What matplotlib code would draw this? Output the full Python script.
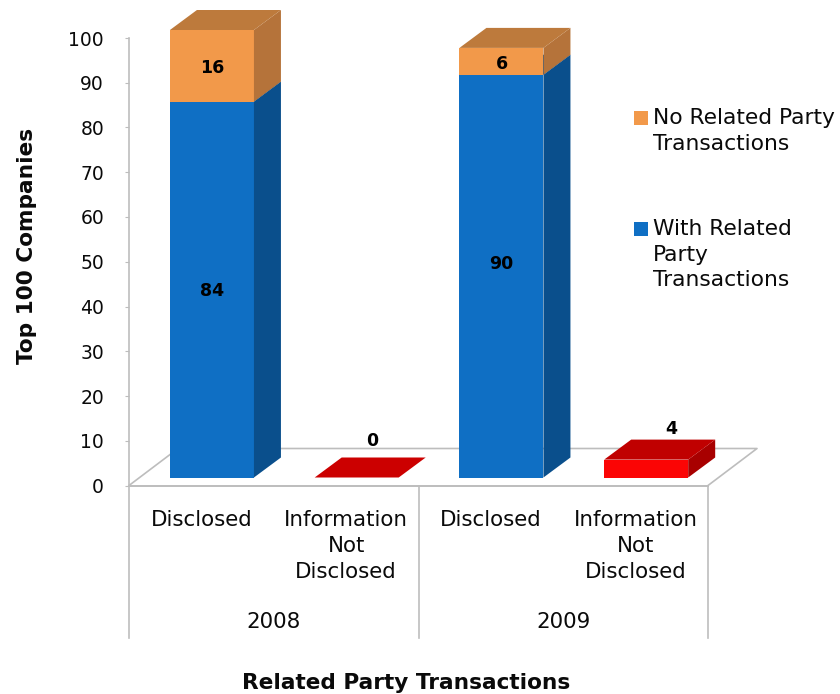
import matplotlib
matplotlib.use('Agg')
import matplotlib.pyplot as plt
from matplotlib.patches import Polygon, Rectangle

categories = ['Disclosed', 'Information\nNot\nDisclosed', 'Disclosed', 'Information\nNot\nDisclosed']
years = ['2008', '2009']
with_rpt = [84, 0, 90, 0]
no_rpt = [16, 0, 6, 0]
not_disclosed = [0, 0, 0, 4]
yticks = list(range(0, 101, 10))

W, H = 840, 694
fig = plt.figure(figsize=(W / 100, H / 100), dpi=100)
# axes box in pixels: left 129, right 708, y=0 at 485.5, y=100 at 38
ax = fig.add_axes([129 / W, 1 - 485.5 / H, 579 / W, 447.5 / H])
ax.set_xlim(0, 4)
ax.set_ylim(0, 100)

# 3d look, offsets in data units
px_x = 4 / 579
px_y = 100 / 447.5
dx, dy = 27 * px_x, 20 * px_y
base = 8 * px_y
shift = 0.073
bar_w = 84 * px_x
grey = '#bdbdbd'
text_color = '#0a0a0a'

# floor
floor_dx, floor_dy = 49 * px_x, 37 * px_y
ax.plot([0, floor_dx, 4 + floor_dx, 4], [0, floor_dy, floor_dy, 0], color=grey, lw=1.2, clip_on=False, zorder=1)
ax.plot([0, 4], [0, 0], color=grey, lw=1.4, clip_on=False, zorder=1)


def draw_segment(x, bottom, height, front, top, side, z):
    left = x - bar_w / 2
    right = x + bar_w / 2
    y0 = bottom + base
    y1 = y0 + height
    ax.bar(x, height, width=bar_w, bottom=y0, color=front, linewidth=0, zorder=z, clip_on=False)
    ax.add_patch(Polygon([(right, y0), (right + dx, y0 + dy), (right + dx, y1 + dy), (right, y1)],
                         color=side, lw=0, clip_on=False, zorder=z))
    ax.add_patch(Polygon([(left, y1), (left + dx, y1 + dy), (right + dx, y1 + dy), (right, y1)],
                         color=top, lw=0, clip_on=False, zorder=z))


def value_label(x, y, value):
    ax.text(x, y, str(value), ha='center', va='center', fontsize=12.5, fontweight='bold',
            color='black', zorder=6, clip_on=False)


# label nudges in pixels (up is positive), the labels are not quite centred in the picture
blue_nudge = {0: -1, 2: 12}
orange_nudge = {0: -2, 2: -3}

for i in range(4):
    x = i + 0.5 + shift
    if with_rpt[i] > 0:
        draw_segment(x, 0, with_rpt[i], '#0f6fc4', '#0b5596', '#0a4f8c', 3)
        value_label(x, base + with_rpt[i] / 2 + blue_nudge[i] * px_y, with_rpt[i])
    if no_rpt[i] > 0:
        draw_segment(x, with_rpt[i], no_rpt[i], '#f2994a', '#bd7a3c', '#b5733a', 4)
        value_label(x, base + with_rpt[i] + no_rpt[i] / 2 + orange_nudge[i] * px_y, no_rpt[i])
    if i % 2 == 1:
        v = not_disclosed[i]
        if v > 0:
            draw_segment(x, 0, v, '#fb0505', '#c00000', '#a80000', 3)
        else:
            draw_segment(x, 0, 0, '#cc0000', '#cc0000', '#cc0000', 3)
        value_label(x + (15 + 2.5 * v) * px_x, base + v + dy + (16 - 1.25 * v) * px_y, v)

# axes and ticks
for s in ['top', 'right', 'bottom']:
    ax.spines[s].set_visible(False)
ax.spines['left'].set_color(grey)
ax.spines['left'].set_linewidth(1.2)
ax.patch.set_alpha(0)
ax.set_yticks(yticks)
ax.tick_params(axis='y', labelsize=13.5, length=3, color=grey, pad=15, labelcolor=text_color)
ax.set_xticks([i + 0.5 for i in range(4)])
ax.set_xticklabels(categories, fontsize=15.4, color=text_color, linespacing=1.35)
ax.tick_params(axis='x', length=0, pad=18)

# year separators and labels
sep_bottom = -(638 - 485.5) * px_y
for xs in [0, 2, 4]:
    ax.plot([xs, xs], [0, sep_bottom], color=grey, lw=1.2, clip_on=False)
for i, yr in enumerate(years):
    ax.text(2 * i + 1, -(622 - 485.5) * px_y, yr, ha='center', va='center', fontsize=15.4, color=text_color)

fig.text(27 / W, 1 - 246 / H, 'Top 100 Companies', rotation=90, ha='center', va='center',
         fontsize=15.6, fontweight='bold', color=text_color)
fig.text(406 / W, 1 - 683 / H, 'Related Party Transactions', ha='center', va='center',
         fontsize=15.6, fontweight='bold', color=text_color)

# legend
legend_items = [('#f2994a', 'No Related Party\nTransactions', 118),
                ('#0f6fc4', 'With Related\nParty\nTransactions', 229)]
for color, label, ypx in legend_items:
    fig.add_artist(Rectangle((634 / W, 1 - (ypx + 7) / H), 14 / W, 14 / H, color=color,
                             transform=fig.transFigure, lw=0))
    fig.text(653 / W, 1 - (ypx - 10) / H, label, ha='left', va='top', fontsize=15.7,
             color=text_color, linespacing=1.35)

fig.savefig('out.png', dpi=100)
